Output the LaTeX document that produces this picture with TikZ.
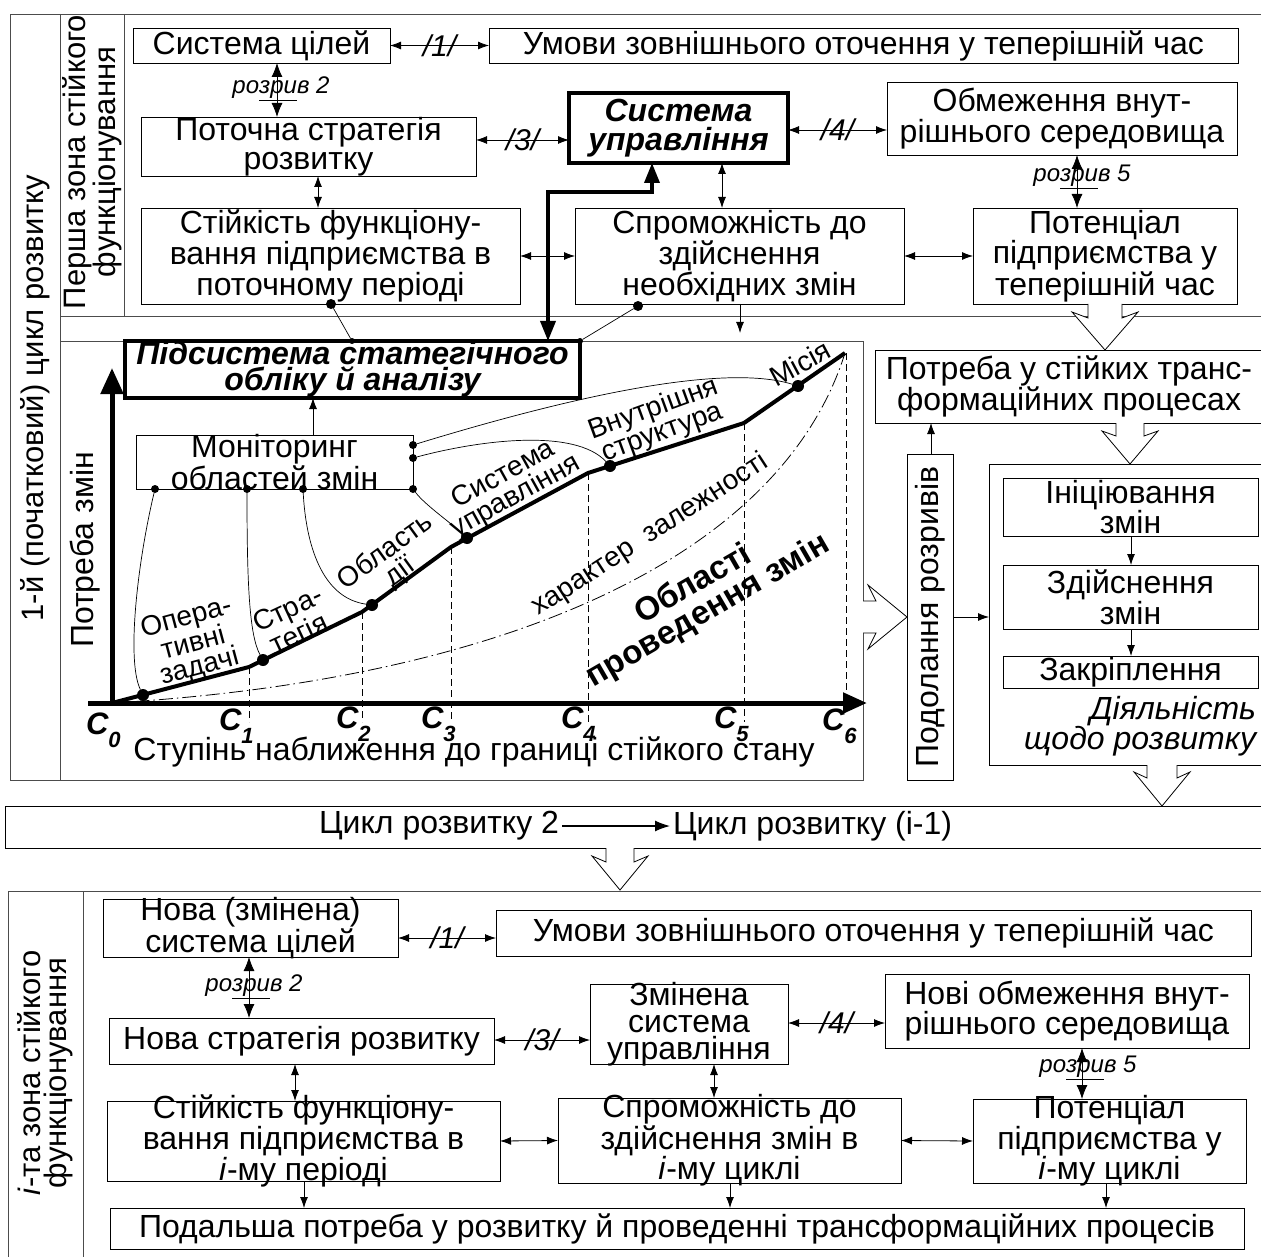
\documentclass[tikz,border=0pt]{standalone}
\usepackage{fontspec}
\setmainfont{Liberation Sans}
\usetikzlibrary{arrows.meta,fit}
\newcommand\fsz[2]{\fontsize{#1}{#2}\selectfont}
\newcommand\csub[1]{\raisebox{-0.42em}{\fsz{22}{22}\bfseries\itshape #1}}
\begin{document}
\begin{tikzpicture}[x=1pt,y=-1pt,
  every node/.style={inner sep=0pt, outer sep=0pt},
  box/.style={draw, line width=0.9pt},
  btxt/.style={align=center, font=\fsz{32}{28.5}},
  thickbox/.style={draw, line width=3.5pt},
  ttxt/.style={align=center, font=\fsz{32}{28.5}\bfseries\itshape},
  frame/.style={line width=0.9pt, draw=black!70},
  thinl/.style={line width=0.7pt},
  dbl/.style={line width=0.8pt, {Latex[length=11pt,width=8pt]}-{Latex[length=11pt,width=8pt]}},
  one/.style={line width=0.8pt, -{Latex[length=11pt,width=8pt]}},
  gap/.style={line width=0.8pt, {Latex[length=14pt,width=11pt]}-{Latex[length=14pt,width=11pt]}},
  gaplab/.style={font=\fsz{24}{24}\itshape},
  slab/.style={font=\fsz{30}{30}\itshape},
  hollow/.style={line width=0.8pt, fill=white},
  dot/.style={circle, fill, minimum size=12pt},
  sdot/.style={circle, fill, minimum size=8pt},
  clab/.style={anchor=base west, font=\fsz{31}{31}\bfseries\itshape},
  vdash/.style={line width=0.7pt, dash pattern=on 7pt off 4pt},
  glab/.style={align=center, font=\fsz{28}{24}}
]
\useasboundingbox (0,0) rectangle (1261,1257);

% ---------- frames of first cycle ----------
\draw[frame] (1263,14) -- (10,14) -- (10,780) -- (863,780) -- (863,341) -- (60,341);
\draw[frame] (60,14) -- (60,780);
\draw[frame] (124,14) -- (124,316);
\draw[frame] (60,316) -- (1263,316);
\node[rotate=90, font=\fsz{31}{29}] (cyc1) at (35,398) {1-й (початковий) цикл розвитку};
\node[rotate=90, align=center, font=\fsz{31}{26}] (zone1) at (92,162) {Перша зона стійкого\\функціонування};

% ---------- top boxes ----------
\node[box, fit={(133,28) (390,63)}] (goals) {};
\node[btxt] (goalsT) at (goals.center) {Система цілей};
\node[box, fit={(489,28) (1238,63)}] (env) {};
\node[btxt] (envT) at (env.center) {Умови зовнішнього оточення у теперішній час};
\node[box, fit={(141,117) (476,176)}] (strat) {};
\node[btxt] (stratT) at (strat.center) {Поточна стратегія\\розвитку};
\node[thickbox, fit={(569,93) (788,163)}] (ctrl) {};
\node[ttxt] (ctrlT) at (ctrl.center) {Система\\управління};
\node[box, fit={(887,82) (1237,155)}] (limits) {};
\node[btxt] (limitsT) at (limits.center) {Обмеження внут-\\рішнього середовища};
\node[box, fit={(141,208) (520,304)}] (stab) {};
\node[btxt] (stabT) at (stab.center) {Стійкість функціону-\\вання підприємства в\\поточному періоді};
\node[box, fit={(575,208) (904,304)}] (cap) {};
\node[btxt] (capT) at (cap.center) {Спроможність до\\здійснення\\необхідних змін};
\node[box, fit={(973,208) (1237,304)}] (pot) {};
\node[btxt] (potT) at (pot.center) {Потенціал\\підприємства у\\теперішній час};

\coordinate (vx1) at (277,0);
\coordinate (vx2) at (318,0);
\coordinate (vx3) at (722,0);
\coordinate (vx4) at (1077,0);
\coordinate (hy3) at (0,140);
\coordinate (hy4) at (0,130);

\draw[dbl] (goals.east) -- node[slab]{/1/} (env.west);
\draw[gap] (goals.south -| vx1) -- (strat.north -| vx1);
\node[gaplab] (g2) at (281,89) {ро\underline{зри}в 2};
\draw[dbl] (strat.east |- hy3) -- node[slab]{/3/} (ctrl.west |- hy3);
\draw[dbl] (ctrl.east |- hy4) -- node[slab]{/4/} (limits.west |- hy4);
\draw[gap] (limits.south -| vx4) -- (pot.north -| vx4);
\node[gaplab] (g5) at (1082,177) {ро\underline{зри}в 5};
\draw[dbl] (strat.south -| vx2) -- (stab.north -| vx2);
\draw[dbl] (ctrl.south -| vx3) -- (cap.north -| vx3);
\draw[dbl] (stab.east) -- (cap.west);
\draw[dbl] (cap.east) -- (pot.west);

% ---------- graph area ----------
\node[thickbox, fit={(125,341) (580,398)}] (sub) {};
\node[ttxt, font=\fsz{32}{26}\bfseries\itshape] (subT) at (sub.center) {Підсистема статегічного\\обліку й аналізу};
\node[box, fit={(136,435) (413,489)}] (mon) {};
\node[btxt] (monT) at (mon.center) {Моніторинг\\областей змін};
\coordinate (vx5) at (313,0);
\draw[one] (mon.north -| vx5) -- (sub.south -| vx5);

\coordinate (tkA) at (548,192);
\coordinate (tkB) at (652,192);
\draw[line width=3.5pt, {Triangle[length=20pt,width=15pt]}-{Triangle[length=20pt,width=15pt]}] (sub.north -| tkA) -- (tkA) -- (tkB) -- (ctrl.south -| tkB);

\node[dot, minimum size=10pt] (d1) at (331,304) {};
\node[sdot, minimum size=6pt] (d2) at (352,341) {};
\draw[thinl] (d1) -- (d2);
\node[dot, minimum size=10pt] (d3) at (638,306) {};
\node[sdot, minimum size=6pt] (d4) at (580,341) {};
\draw[thinl] (d3) -- (d4);
\coordinate (capend) at (740,333);
\draw[one] (cap.south -| capend) -- (capend);

% axes
\coordinate (O) at (112,703);
\draw[line width=5pt, -{Triangle[length=26pt,width=22pt]}] (O) -- (112,368);
\draw[line width=5pt, -{Triangle[length=24pt,width=20pt]}] (88,703) -- (867,703);
\node[rotate=90, font=\fsz{32}{29}] (yl) at (85,550) {Потреба змін};
\node[font=\fsz{32}{29}] (xl) at (474,752) {Ступінь наближення до границі стійкого стану};

% dashed verticals
\draw[vdash] (249,667) -- (249,722);
\draw[vdash] (362,612) -- (362,722);
\draw[vdash] (451,547) -- (451,722);
\draw[vdash] (588,473) -- (588,722);
\draw[vdash] (744,423) -- (744,722);
\draw[vdash] (846,353) -- (846,703);

% dash-dot dependency curve
\draw[line width=0.8pt, dash pattern=on 14pt off 4pt on 1.5pt off 4pt] (O) .. controls (500,680) and (780,560) .. (845,353);

% thick curve
\draw[line width=4pt, line join=round] (O) -- (249,667) -- (362,612) -- (451,547) -- (588,473) -- (744,423) -- (845,353);
\node[dot] (p1) at (143,695) {};
\node[dot] (p2) at (263,660) {};
\node[dot] (p3) at (372,605) {};
\node[dot] (p4) at (467,538) {};
\node[dot] (p5) at (610,466) {};
\node[dot] (p6) at (798,386) {};

% monitoring links
\node[sdot] (m1) at (155,489) {};
\node[sdot] (m2) at (247,489) {};
\node[sdot] (m3) at (303,489) {};
\node[sdot] (m4) at (413,489) {};
\node[sdot] (m5) at (413,458) {};
\node[sdot] (m6) at (413,445) {};
\draw[thinl] (m1) .. controls (138,560) and (126,660) .. (p1);
\draw[thinl] (m2) .. controls (247,580) and (249,635) .. (p2);
\draw[thinl] (m3) .. controls (306,545) and (322,598) .. (p3);
\draw[thinl] (m4) .. controls (425,505) and (450,522) .. (p4);
\draw[thinl] (m5) .. controls (480,440) and (575,428) .. (p5);
\draw[thinl] (m6) .. controls (560,400) and (720,362) .. (p6);

% C labels
\node[clab] (c0) at (86,734) {C\csub{0}};
\node[clab] (c1) at (219,730) {C\csub{1}};
\node[clab] (c2) at (336,728) {C\csub{2}};
\node[clab] (c3) at (421,728) {C\csub{3}};
\node[clab] (c4) at (561,728) {C\csub{4}};
\node[clab] (c5) at (714,728) {C\csub{5}};
\node[clab] (c6) at (822,730) {C\csub{6}};

% curve labels
\node[glab, rotate=15] (lop) at (193,643) {Опера-\\тивні\\задачі};
\node[glab, rotate=25] (lstr) at (293,621) {Стра-\\тегія};
\node[glab, rotate=36, font=\fsz{28}{25}] (lact) at (393,562) {Область\\дії};
\node[glab, rotate=29, font=\fsz{28}{25}] (lsys) at (510,486) {Система\\управління};
\node[glab, rotate=20, font=\fsz{28}{25}] (lint) at (658,421) {Внутрішня\\структура};
\node[glab, rotate=28] (lmis) at (800,363) {Місія};
\node[rotate=33, font=\fsz{28}{28}] (dep) at (650,535) {характер~~залежності};
\node[rotate=30, align=center, font=\fsz{33}{30}\bfseries] (areas) at (701,598) {Області\\проведення змін};

% ---------- right column ----------
\node[box, fit={(875,350) (1263,423)}] (need) {};
\node[btxt] (needT) at (need.center) {Потреба у стійких транс-\\формаційних процесах};
\node[box, fit={(907,454) (953,780)}] (gaps) {};
\node[rotate=90, font=\fsz{32}{29}] (gapsT) at (gaps.center) {Подолання розривів};
\node[box, fit={(989,464) (1263,765)}] (act) {};
\node[box, fit={(1003,478) (1258,536)}] (init) {};
\node[btxt] (initT) at (init.center) {Ініціювання\\змін};
\node[box, fit={(1003,565) (1258,629)}] (impl) {};
\node[btxt] (implT) at (impl.center) {Здійснення\\змін};
\node[box, fit={(1003,656) (1258,688)}] (fix) {};
\node[btxt] (fixT) at (fix.center) {Закріплення};
\node[font=\fsz{32}{27}\itshape, align=right, anchor=north east] (actT) at (1256,696) {Діяльність\\щодо розвитку};
\coordinate (vx6) at (931,0);
\coordinate (vx7) at (1131,0);
\draw[one] (gaps.north -| vx6) -- (need.south -| vx6);
\draw[one] (gaps.east) -- (act.west |- gaps.east);
\draw[one] (init.south -| vx7) -- (impl.north -| vx7);
\draw[one] (impl.south -| vx7) -- (fix.north -| vx7);

% hollow arrows
\draw[hollow] (1088,304) -- (1088,318) -- (1072,312) -- (1105,350) -- (1138,312) -- (1122,318) -- (1122,304);
\draw[hollow] (1116,423) -- (1116,436) -- (1102,431) -- (1130,464) -- (1158,431) -- (1144,436) -- (1144,423);
\draw[hollow] (1147,765) -- (1147,778) -- (1134,772) -- (1162,806) -- (1190,772) -- (1177,778) -- (1177,765);
\draw[hollow] (863,601) -- (876,601) -- (868,585) -- (907,617) -- (868,649) -- (876,633) -- (863,633);

% ---------- cycle bar ----------
\node[box, fit={(5,806) (1263,848)}] (cyc) {};
\node[font=\fsz{32}{29}, anchor=east] (cy2) at (559,826) {Цикл розвитку 2};
\node[font=\fsz{32}{29}, anchor=west] (cyi) at (673,826) {Цикл розвитку (i-1)};
\draw[line width=1.3pt, -{Latex[length=15pt,width=11pt]}, shorten <=3pt, shorten >=3pt] (cy2.east) -- (cyi.west);
\draw[hollow] (606,848) -- (606,862) -- (592,856) -- (620,890) -- (648,856) -- (634,862) -- (634,848);

% ---------- i-th zone ----------
\draw[frame] (1263,891) -- (8,891) -- (8,1260);
\draw[frame] (83,891) -- (83,1260);
\node[rotate=90, align=center, font=\fsz{31}{26}] (zone2) at (45,1073) {\textit{і}-та зона стійкого\\функціонування};

\node[box, fit={(103,899) (398,957)}] (goals2) {};
\node[btxt] (goals2T) at (goals2.center) {Нова (змінена)\\система цілей};
\node[box, fit={(496,910) (1251,956)}] (env2) {};
\node[btxt] (env2T) at (env2.center) {Умови зовнішнього оточення у теперішній час};
\node[box, fit={(109,1018) (494,1064)}] (strat2) {};
\node[btxt] (strat2T) at (strat2.center) {Нова стратегія розвитку};
\node[box, fit={(590,984) (788,1064)}] (ctrl2) {};
\node[btxt, font=\fsz{32}{27}] (ctrl2T) at (ctrl2.center) {Змінена\\система\\управління};
\node[box, fit={(885,974) (1249,1048)}] (limits2) {};
\node[btxt] (limits2T) at (limits2.center) {Нові обмеження внут-\\рішнього середовища};
\node[box, fit={(107,1101) (500,1181)}] (stab2) {};
\node[btxt, font=\fsz{32}{27}] (stab2T) at (stab2.center) {Стійкість функціону-\\вання підприємства в\\\textit{і}-му періоді};
\node[box, fit={(558,1098) (901,1183)}] (cap2) {};
\node[btxt] (cap2T) at (cap2.center) {Спроможність до\\здійснення змін в\\\textit{і}-му циклі};
\node[box, fit={(973,1099) (1246,1183)}] (pot2) {};
\node[btxt] (pot2T) at (pot2.center) {Потенціал\\підприємства у\\\textit{і}-му циклі};
\node[box, fit={(110,1208) (1244,1249)}] (next) {};
\node[btxt] (nextT) at (next.center) {Подальша потреба у розвитку й проведенні трансформаційних процесів};

\coordinate (hy1b) at (0,938);
\coordinate (vx1b) at (249,0);
\coordinate (hy3b) at (0,1040);
\coordinate (hy4b) at (0,1023);
\coordinate (vx4b) at (1082,0);
\coordinate (vx2b) at (295,0);
\coordinate (vx3b) at (714,0);
\coordinate (vd1) at (304,0);
\coordinate (vd2) at (730,0);
\coordinate (vd3) at (1106,0);

\draw[dbl] (goals2.east |- hy1b) -- node[slab]{/1/} (env2.west |- hy1b);
\draw[gap] (goals2.south -| vx1b) -- (strat2.north -| vx1b);
\node[gaplab] (g2b) at (254,987) {ро\underline{зри}в 2};
\draw[dbl] (strat2.east |- hy3b) -- node[slab]{/3/} (ctrl2.west |- hy3b);
\draw[dbl] (ctrl2.east |- hy4b) -- node[slab]{/4/} (limits2.west |- hy4b);
\draw[gap] (limits2.south -| vx4b) -- (pot2.north -| vx4b);
\node[gaplab] (g5b) at (1088,1068) {ро\underline{зри}в 5};
\draw[dbl] (strat2.south -| vx2b) -- (stab2.north -| vx2b);
\draw[dbl] (ctrl2.south -| vx3b) -- (cap2.north -| vx3b);
\draw[dbl] (stab2.east) -- (cap2.west);
\draw[dbl] (cap2.east) -- (pot2.west);
\draw[one] (stab2.south -| vd1) -- (next.north -| vd1);
\draw[one] (cap2.south -| vd2) -- (next.north -| vd2);
\draw[one] (pot2.south -| vd3) -- (next.north -| vd3);
\end{tikzpicture}
\end{document}
